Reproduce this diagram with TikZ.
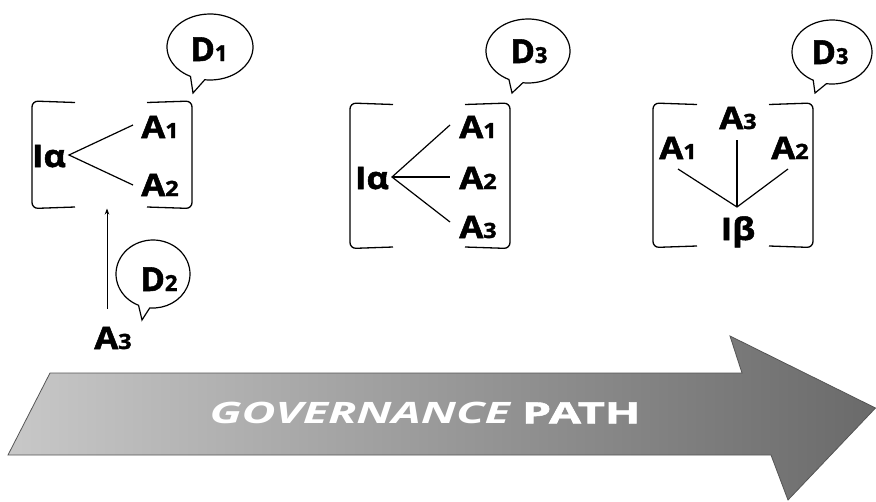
\documentclass[tikz,border=0pt]{standalone}
\usepackage{fontspec}
\setmainfont{Open Sans}[BoldFeatures={FakeBold=1.6}]
\usetikzlibrary{arrows.meta,calc}
\definecolor{arrL}{HTML}{C8C8C8}
\definecolor{arrR}{HTML}{6A6A6A}
\definecolor{arrE}{HTML}{555555}
\newcommand\subn[1]{{\fontsize{21}{21}\selectfont #1}}
\newcommand\subd[1]{{\fontsize{22}{22}\selectfont #1}}
\newcommand\lb[1]{\scalebox{1.12}[1]{#1}}
\begin{document}
\begin{tikzpicture}[x=1pt,y=-1pt,
  lab/.style={font=\fontsize{31}{31}\selectfont\bfseries, inner sep=0pt, anchor=base},
  dlab/.style={font=\fontsize{33}{33}\selectfont\bfseries, inner sep=0pt, anchor=base},
  brk/.style={line width=1.3pt, rounded corners=6pt},
  ln/.style={line width=1.2pt},
  bub/.style={line width=1.2pt, fill=white},
]
\useasboundingbox (0,0) rectangle (876,501);

% ---------- big arrow ----------
\draw[draw=arrE, line width=0.8pt, left color=arrL, right color=arrR]
  (8,455) -- (50,373) -- (742,373) -- (730,336) -- (875.5,408) -- (788,500) -- (771,455) -- cycle;
\node[text=white, font=\fontsize{29.5}{29.5}\selectfont\bfseries, inner sep=0pt, anchor=base] (gp) at (425,423.5)
  {\scalebox{1.58}[1]{\itshape GOVERNANCE \upshape PATH}};

% ---------- box 1 ----------
\draw[brk] (75,102.5) -- (32,101) -- (32,208.5) -- (75,207);
\draw[brk] (147,102.5) -- (192,101) -- (192,208.5) -- (147,207);
\node[lab] (b1i) at (49,167) {\lb{Iα}};
\node[lab] (b1a1) at (160,138) {\lb{A\subn{1}}};
\node[lab] (b1a2) at (160,196) {\lb{A\subn{2}}};
\coordinate (v1) at (69,155);
\coordinate (e11) at (133,125);
\coordinate (e12) at (133,185);
\draw[ln] (e11) -- (v1) -- (e12);

% bubble D1
\coordinate (c1) at (210,47);
\draw[bub] ($(c1)+(97:43 and 33)$) -- (193,93) -- ($(c1)+(117:43 and 33)$)
  arc[start angle=117, end angle=457, x radius=43, y radius=33] -- cycle;
\node[dlab] (d1) at (209,61) {D\subd{1}};

% ---------- A3 and D2 ----------
\node[lab] (a3lo) at (113,349) {\lb{A\subn{3}}};
\coordinate (b1bot) at (107,208.5);
\draw[line width=1pt, -{Stealth[length=6pt,width=4.5pt]}, shorten <=18pt] (a3lo.north -| b1bot) -- (b1bot);
\coordinate (c2) at (153,274);
\draw[bub] ($(c2)+(95:37 and 34)$) -- (142,320) -- ($(c2)+(113:37 and 34)$)
  arc[start angle=113, end angle=455, x radius=37, y radius=34] -- cycle;
\node[dlab] (d2) at (159,291) {D\subd{2}};

% ---------- box 2 ----------
\draw[brk] (393,104.5) -- (350,103) -- (350,248.5) -- (393,247);
\draw[brk] (465,104.5) -- (510,103) -- (510,248.5) -- (465,247);
\node[lab] (b2i) at (372,189) {\lb{Iα}};
\node[lab] (b2a1) at (478,138) {\lb{A\subn{1}}};
\node[lab] (b2a2) at (478,189) {\lb{A\subn{2}}};
\node[lab] (b2a3) at (478,238) {\lb{A\subn{3}}};
\coordinate (v2) at (392,177);
\coordinate (e21) at (450,125);
\coordinate (e22) at (450,177);
\coordinate (e23) at (450,222);
\draw[ln] (e21) -- (v2) -- (e23);
\draw[ln] (v2) -- (e22);
\coordinate (c3) at (528,51);
\draw[bub] ($(c3)+(97:42 and 32)$) -- (512,93) -- ($(c3)+(117:42 and 32)$)
  arc[start angle=117, end angle=457, x radius=42, y radius=32] -- cycle;
\node[dlab] (d3m) at (529,63) {D\subd{3}};

% ---------- box 3 ----------
\draw[brk] (697,104.5) -- (653,103) -- (653,247.5) -- (697,246);
\draw[brk] (769,104.5) -- (813,103) -- (813,247.5) -- (769,246);
\node[lab] (b3a3) at (738,129) {\lb{A\subn{3}}};
\node[lab] (b3a1) at (678,159) {\lb{A\subn{1}}};
\node[lab] (b3a2) at (790,159) {\lb{A\subn{2}}};
\node[lab] (b3i) at (738,240) {\lb{Iβ}};
\coordinate (v3) at (737,207);
\coordinate (e31) at (678,169);
\coordinate (e32) at (788,169);
\coordinate (e33) at (737,140);
\draw[ln] (e31) -- (v3) -- (e32);
\draw[ln] (v3) -- (e33);
\coordinate (c4) at (832,52);
\draw[bub] ($(c4)+(98:40 and 32)$) -- (815,93) -- ($(c4)+(118:40 and 32)$)
  arc[start angle=118, end angle=458, x radius=40, y radius=32] -- cycle;
\node[dlab] (d3r) at (830,64) {D\subd{3}};
\end{tikzpicture}
\end{document}
